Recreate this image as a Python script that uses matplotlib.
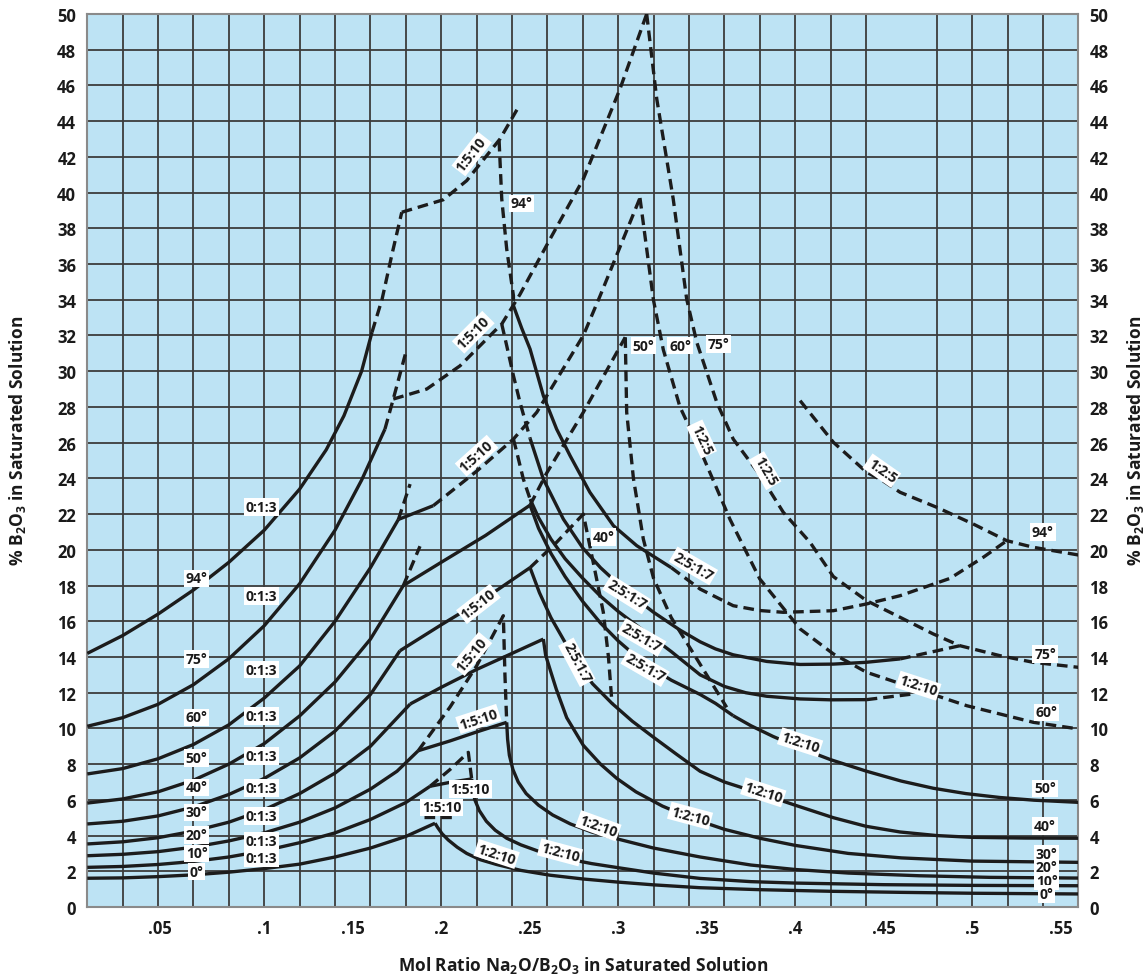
import matplotlib
matplotlib.use("Agg")
import matplotlib.pyplot as plt

plt.rcParams['font.family'] = ['Open Sans', 'DejaVu Sans']
plt.rcParams['font.weight'] = 'bold'
plt.rcParams['mathtext.fontset'] = 'custom'
plt.rcParams['mathtext.rm'] = 'Open Sans:bold'
plt.rcParams['mathtext.it'] = 'Open Sans:bold'
plt.rcParams['mathtext.bf'] = 'Open Sans:bold'

# ---------------- data (mol ratio, % B2O3) ----------------
# 0 deg
t0_boric = [(0, 1.61), (0.02, 1.63), (0.04, 1.70), (0.06, 1.80), (0.08, 1.95), (0.10, 2.15),
            (0.12, 2.40), (0.14, 2.80), (0.16, 3.30), (0.18, 3.95), (0.1965, 4.69)]
t0_borax = [(0.1965, 4.69), (0.198, 4.45), (0.2005, 4.1), (0.204, 3.75), (0.209, 3.35), (0.2144, 3.0),
            (0.222, 2.65), (0.2313, 2.38), (0.245, 2.05), (0.2615, 1.78), (0.28, 1.57), (0.2992, 1.4),
            (0.32, 1.24), (0.3463, 1.08), (0.38, 0.97), (0.42, 0.88), (0.46, 0.82), (0.50, 0.77),
            (0.56, 0.73)]
t0_penta_m = [(0.190, 5.02), (0.2083, 5.02)]
# 10 deg
t10_boric = [(0, 2.22), (0.02, 2.27), (0.04, 2.38), (0.06, 2.55), (0.08, 2.80), (0.10, 3.15),
             (0.12, 3.60), (0.14, 4.15), (0.16, 4.90), (0.18, 5.85), (0.1937, 6.76)]
t10_penta = [(0.1937, 6.76), (0.205, 6.98), (0.2172, 7.17)]
t10_penta_m = [(0.1937, 6.76), (0.205, 7.7), (0.2153, 8.66), (0.2172, 7.17)]
t10_borax = [(0.2172, 7.17), (0.2178, 6.6), (0.219, 6.0), (0.2215, 5.4), (0.2255, 4.8), (0.2305, 4.3),
             (0.237, 3.85), (0.245, 3.48), (0.257, 3.05), (0.27, 2.72), (0.285, 2.43), (0.30, 2.2),
             (0.32, 1.9), (0.3463, 1.6), (0.375, 1.42), (0.40, 1.34), (0.45, 1.25), (0.50, 1.21),
             (0.56, 1.19)]
# 20 deg
t20_boric = [(0, 2.87), (0.02, 2.95), (0.04, 3.10), (0.06, 3.35), (0.08, 3.70), (0.10, 4.15),
             (0.12, 4.75), (0.14, 5.55), (0.16, 6.60), (0.175, 7.60), (0.187, 8.75)]
t20_penta = [(0.187, 8.75), (0.205, 9.3), (0.22, 9.8), (0.237, 10.34)]
t20_penta_m = [(0.187, 8.75), (0.205, 11.2), (0.22, 13.5), (0.2351, 16.31), (0.236, 13.0), (0.237, 10.34)]
t20_borax = [(0.237, 10.34), (0.2375, 9.4), (0.2385, 8.5), (0.2405, 7.7), (0.2435, 7.0), (0.248, 6.35),
             (0.255, 5.7), (0.263, 5.15), (0.273, 4.65), (0.285, 4.2), (0.30, 3.8), (0.32, 3.3),
             (0.3463, 2.8), (0.375, 2.35), (0.40, 2.1), (0.43, 1.9), (0.47, 1.75), (0.51, 1.66),
             (0.56, 1.62)]
# 30 deg
t30_boric = [(0, 3.53), (0.02, 3.65), (0.04, 3.88), (0.06, 4.25), (0.08, 4.75), (0.10, 5.45),
             (0.12, 6.35), (0.14, 7.50), (0.16, 9.00), (0.1825, 11.37)]
t30_penta = [(0.1825, 11.37), (0.20, 12.3), (0.22, 13.3), (0.24, 14.2), (0.2577, 15.0)]
t30_borax = [(0.2577, 15.0), (0.259, 14.1), (0.2615, 13.3), (0.265, 12.2), (0.2709, 10.6),
             (0.2803, 9.05), (0.29, 8.0), (0.2992, 7.2), (0.31, 6.45), (0.325, 5.65), (0.3406, 5.0),
             (0.36, 4.35), (0.38, 3.85), (0.40, 3.45), (0.43, 3.0), (0.46, 2.75), (0.50, 2.57),
             (0.56, 2.5)]
# 40 deg
t40_boric = [(0, 4.65), (0.02, 4.80), (0.04, 5.10), (0.06, 5.60), (0.08, 6.30), (0.10, 7.20),
             (0.12, 8.35), (0.14, 9.85), (0.16, 11.9), (0.1767, 14.35)]
t40_penta = [(0.1767, 14.35), (0.20, 15.8), (0.225, 17.3), (0.2502, 19.0)]
t40_penta_m = [(0.2502, 19.0), (0.265, 20.4), (0.2803, 22.0), (0.2878, 18.37), (0.2916, 16.5),
               (0.2945, 14.0), (0.2965, 11.4)]
t40_borax = [(0.2502, 19.0), (0.2555, 17.6), (0.262, 16.2), (0.2695, 14.9), (0.2766, 13.7),
             (0.2855, 12.5), (0.2965, 11.4), (0.308, 10.4), (0.32, 9.5), (0.333, 8.55), (0.3463, 7.6),
             (0.36, 7.0), (0.382, 6.3), (0.40, 5.7), (0.4216, 5.0), (0.44, 4.52), (0.4593, 4.2),
             (0.48, 4.0), (0.50, 3.9), (0.53, 3.86), (0.56, 3.85)]
# 50 deg
t50_boric = [(0, 5.82), (0.02, 6.05), (0.04, 6.45), (0.06, 7.10), (0.08, 8.00), (0.10, 9.15),
             (0.12, 10.7), (0.14, 12.6), (0.16, 15.0), (0.1786, 18.0)]
t50_boric_m = [(0.1786, 18.0), (0.188, 20.2)]
t50_penta = [(0.1786, 18.0), (0.20, 19.3), (0.225, 20.8), (0.2502, 22.5)]
t50_penta_m = [(0.2502, 22.5), (0.2596, 24.3), (0.2803, 27.7), (0.304, 31.9)]
t50_k125 = [(0.304, 31.9), (0.3048, 27.7), (0.3086, 24.0), (0.3142, 20.6), (0.32, 18.4),
            (0.33, 16.2), (0.345, 13.8), (0.3613, 11.18)]
t50_p2517 = [(0.2502, 22.5), (0.255, 21.2), (0.262, 19.8), (0.27, 18.5), (0.28, 17.1), (0.29, 15.9),
             (0.30, 14.9), (0.3152, 13.6), (0.33, 12.7), (0.3463, 11.9), (0.355, 11.4), (0.365, 10.71)]
t50_borax = [(0.365, 10.71), (0.375, 10.15), (0.3875, 9.55), (0.4028, 8.9), (0.42, 8.25), (0.4404, 7.6),
             (0.46, 7.05), (0.478, 6.65), (0.4965, 6.35), (0.5158, 6.13), (0.535, 5.98), (0.56, 5.86)]
# 60 deg
t60_boric = [(0, 7.45), (0.02, 7.75), (0.04, 8.30), (0.06, 9.10), (0.08, 10.2), (0.10, 11.7),
             (0.12, 13.5), (0.14, 16.0), (0.16, 19.0), (0.1758, 21.7)]
t60_boric_m = [(0.1758, 21.7), (0.1824, 23.68)]
t60_penta = [(0.1758, 21.7), (0.1955, 22.47)]
t60_penta_m = [(0.1955, 22.47), (0.22, 24.4), (0.2408, 26.2), (0.254, 27.7), (0.2803, 32.0),
               (0.2897, 34.2), (0.3123, 39.7)]
t60_meta_dn = [(0.2408, 26.2), (0.2427, 25.46), (0.2464, 23.96), (0.2502, 22.84)]
t60_k125 = [(0.3123, 39.7), (0.3199, 34.0), (0.3255, 31.2), (0.3349, 28.0), (0.3463, 25.6),
            (0.3632, 21.7), (0.38, 18.37), (0.4028, 15.57), (0.4216, 14.17), (0.4404, 13.14),
            (0.4687, 12.2), (0.497, 11.27), (0.5346, 10.34), (0.56, 9.97)]
t60_p2517 = [(0.2502, 22.84), (0.255, 21.8), (0.262, 20.6), (0.27, 19.5), (0.28, 18.4), (0.29, 17.4),
             (0.30, 16.55), (0.3133, 15.55), (0.33, 14.3), (0.3463, 13.0), (0.36, 12.35), (0.372, 12.0),
             (0.3839, 11.8), (0.4028, 11.65), (0.42, 11.6), (0.4404, 11.61)]
t60_borax_m = [(0.4404, 11.61), (0.4668, 11.93)]
# 75 deg
t75_boric = [(0, 10.12), (0.02, 10.60), (0.04, 11.35), (0.06, 12.45), (0.08, 13.9), (0.10, 15.75),
             (0.12, 18.1), (0.14, 21.1), (0.155, 23.9), (0.1682, 26.76)]
t75_boric_m = [(0.1682, 26.76), (0.1729, 28.44), (0.1805, 31.24)]
t75_penta_m = [(0.1729, 28.44), (0.1918, 29.0), (0.2106, 30.3), (0.2313, 32.36), (0.2342, 32.64),
               (0.2445, 34.3), (0.2615, 37.4), (0.2803, 40.76), (0.301, 45.8), (0.3161, 50.0)]
t75_meta_dn = [(0.2342, 32.64), (0.237, 31.43), (0.2408, 29.75), (0.2445, 28.26), (0.2502, 26.24)]
t75_p2517 = [(0.2502, 26.24), (0.2577, 23.96), (0.269, 21.72), (0.28, 20.1), (0.29, 19.0),
             (0.3048, 17.65), (0.32, 16.5), (0.335, 15.5), (0.3463, 14.85), (0.355, 14.45),
             (0.365, 14.12), (0.3839, 13.75), (0.4028, 13.58), (0.4216, 13.6), (0.44, 13.7),
             (0.4593, 13.89)]
t75_borax_m = [(0.4593, 13.89), (0.4931, 14.63)]
t75_k125 = [(0.3161, 50.0), (0.3218, 45.24), (0.3311, 39.64), (0.3387, 34.04), (0.3444, 31.62),
            (0.3557, 28.26), (0.365, 26.2), (0.38, 24.2), (0.3933, 22.1), (0.4084, 20.42), (0.4216, 18.5),
            (0.4404, 17.15), (0.4593, 16.22), (0.478, 15.29), (0.4931, 14.63), (0.5158, 14.07),
            (0.5346, 13.7), (0.56, 13.42)]
# 94 deg
t94_boric = [(0, 14.2), (0.02, 15.2), (0.04, 16.4), (0.06, 17.75), (0.08, 19.3), (0.10, 21.1),
             (0.12, 23.4), (0.135, 25.6), (0.145, 27.5), (0.155, 30.0), (0.1609, 32.19)]
t94_boric_m = [(0.1609, 32.19), (0.1666, 34.04), (0.1722, 36.56), (0.1777, 38.9)]
t94_penta_m = [(0.1777, 38.9), (0.2012, 39.6), (0.2144, 40.67), (0.2332, 43.0), (0.2436, 44.78)]
t94_meta_dn = [(0.2327, 42.9), (0.2342, 39.64), (0.237, 36.84), (0.2408, 34.23), (0.2408, 33.67)]
t94_p2517 = [(0.2408, 33.67), (0.2455, 32.4), (0.2502, 31.24), (0.2577, 28.63), (0.2652, 26.76),
             (0.2728, 25.27), (0.284, 23.22), (0.2973, 21.35), (0.3105, 20.23), (0.33, 19.0)]
t94_p2517_m = [(0.33, 19.0), (0.3463, 17.8), (0.365, 16.87), (0.38, 16.6), (0.3933, 16.5), (0.4216, 16.59),
               (0.4404, 16.97), (0.4593, 17.43), (0.4875, 18.4), (0.5063, 19.58), (0.5196, 20.51)]
t94_k125 = [(0.4028, 28.35), (0.4216, 26.02), (0.4404, 24.34), (0.449, 23.9), (0.4593, 23.22),
            (0.48, 22.38), (0.5007, 21.44), (0.5196, 20.51), (0.5346, 20.14), (0.56, 19.71)]

solid_curves = [t0_boric, t0_borax, t10_boric, t10_penta, t10_borax, t20_boric, t20_penta, t20_borax,
                t30_boric, t30_penta, t30_borax, t40_boric, t40_penta, t40_borax,
                t50_boric, t50_penta, t50_p2517, t50_borax, t60_boric, t60_penta, t60_p2517,
                t75_boric, t75_p2517, t94_boric, t94_p2517]
dashed_curves = [t0_penta_m, t10_penta_m, t20_penta_m, t40_penta_m, t50_boric_m, t50_penta_m, t50_k125,
                 t60_boric_m, t60_penta_m, t60_meta_dn, t60_k125, t60_borax_m,
                 t75_boric_m, t75_penta_m, t75_meta_dn, t75_borax_m, t75_k125,
                 t94_boric_m, t94_penta_m, t94_meta_dn, t94_p2517_m, t94_k125]

# labels: text, x, y (, rotation)
temp_labels_left = [("94°", 0.0618, 18.4), ("75°", 0.0618, 13.89), ("60°", 0.0618, 10.62),
                    ("50°", 0.0618, 8.34), ("40°", 0.0618, 6.70), ("30°", 0.0618, 5.30),
                    ("20°", 0.0618, 4.03), ("10°", 0.0618, 3.0), ("0°", 0.0618, 1.98)]
boric_labels = [(0.0985, 22.38), (0.0985, 17.43), (0.0985, 13.29), (0.0985, 10.71), (0.0985, 8.47),
                (0.0985, 6.66), (0.0985, 5.08), (0.0985, 3.68), (0.0985, 2.73)]
temp_labels_right = [("94°", 0.54, 20.98), ("75°", 0.5412, 14.17), ("60°", 0.5421, 10.9),
                     ("50°", 0.5412, 6.64), ("40°", 0.5412, 4.52), ("30°", 0.5421, 2.97),
                     ("20°", 0.5421, 2.22), ("10°", 0.5421, 1.47), ("0°", 0.5421, 0.73)]
misc_labels = [("50°", 0.3142, 31.43, 0), ("60°", 0.3349, 31.43, 0), ("75°", 0.3566, 31.52, 0),
               ("94°", 0.2455, 39.4, 0), ("40°", 0.2916, 20.7, 0),
               ("1:5:10", 0.2172, 42.16, 52), ("1:5:10", 0.2181, 32.18, 45), ("1:5:10", 0.22, 25.27, 42),
               ("1:5:10", 0.221, 16.97, 38), ("1:5:10", 0.2172, 14.17, 50), ("1:5:10", 0.221, 10.53, 18),
               ("1:5:10", 0.2163, 6.61, 0), ("1:5:10", 0.2003, 5.58, 0),
               ("2:5:1:7", 0.3425, 19.1, -30), ("2:5:1:7", 0.3048, 17.5, -32), ("2:5:1:7", 0.3133, 15.1, -30),
               ("2:5:1:7", 0.3152, 13.4, -30), ("2:5:1:7", 0.2766, 13.7, -62),
               ("1:2:10", 0.2313, 2.97, -18), ("1:2:10", 0.2671, 3.06, -15), ("1:2:10", 0.2888, 4.55, -20),
               ("1:2:10", 0.3406, 5.11, -15), ("1:2:10", 0.382, 6.42, -18), ("1:2:10", 0.4028, 9.22, -18),
               ("1:2:10", 0.4696, 12.39, -18),
               ("1:2:5", 0.3472, 26.2, -65), ("1:2:5", 0.383, 24.43, -60), ("1:2:5", 0.449, 24.43, -35)]

x_tick_values = [0.041, 0.10, 0.15, 0.20, 0.25, 0.30, 0.35, 0.40, 0.45, 0.50, 0.55]
x_tick_labels = [".05", ".1", ".15", ".2", ".25", ".3", ".35", ".4", ".45", ".5", ".55"]
y_tick_values = list(range(0, 51, 2))

# ---------------- figure ----------------
W, H = 1148, 979
fig = plt.figure(figsize=(W / 100, H / 100), dpi=100)
ax = fig.add_axes([87.3 / W, 71 / H, 991 / W, 893 / H])
ax.set_xlim(0, 0.56)
ax.set_ylim(0, 50)
ax.set_facecolor('#bde3f4')

grid_col = '#3c3c3c'
for k in range(1, 28):
    if k == 23:
        continue
    ax.axvline(0.02 * k, color=grid_col, lw=1.3, zorder=1)
for v in range(2, 50, 2):
    ax.axhline(v, color=grid_col, lw=1.3, zorder=1)

line_col = '#1c1c1c'
for seg in solid_curves:
    xs, ys = zip(*seg)
    ax.plot(xs, ys, color=line_col, lw=2.4, solid_capstyle='butt', solid_joinstyle='round', zorder=3)
for seg in dashed_curves:
    xs, ys = zip(*seg)
    ax.plot(xs, ys, color=line_col, lw=2.4, linestyle=(0, (3.2, 1.8)), dash_capstyle='butt', zorder=3)

box = dict(facecolor='white', edgecolor='none', pad=1.3)
lab_kw = dict(fontsize=10, fontweight='bold', ha='center', va='center', zorder=5, color='#1a1a1a')
for s, x, y in temp_labels_left:
    ax.text(x, y, s, bbox=box, **lab_kw)
for x, y in boric_labels:
    ax.text(x, y, "0:1:3", bbox=box, **lab_kw)
for s, x, y in temp_labels_right:
    ax.text(x, y, s, bbox=box, **lab_kw)
for s, x, y, r in misc_labels:
    ax.text(x, y, s, rotation=r, rotation_mode='anchor', bbox=box, **lab_kw)

ax.set_xticks(x_tick_values)
ax.set_xticklabels(x_tick_labels)
ax.set_yticks(y_tick_values)
ax.set_yticklabels([str(v) for v in y_tick_values])
ax.tick_params(axis='both', length=0, labelsize=12, colors='#1a1a1a')
ax.tick_params(axis='y', labelright=True, pad=8)
ax.tick_params(axis='x', pad=9)
for sp in ax.spines.values():
    sp.set_color('#8a8a8a')
    sp.set_linewidth(1.5)

fig.text(583 / W, (979 - 966) / H, "Mol Ratio Na$_2$O/B$_2$O$_3$ in Saturated Solution", fontsize=12.5,
         fontweight='bold', ha='center', va='center', color='#1a1a1a')
fig.text(18 / W, 0.55, "% B$_2$O$_3$ in Saturated Solution", rotation=90, fontsize=12.5,
         fontweight='bold', ha='center', va='center', color='#1a1a1a')
fig.text(1136 / W, 0.55, "% B$_2$O$_3$ in Saturated Solution", rotation=90, fontsize=12.5,
         fontweight='bold', ha='center', va='center', color='#1a1a1a')

fig.savefig("out.png", dpi=100)
